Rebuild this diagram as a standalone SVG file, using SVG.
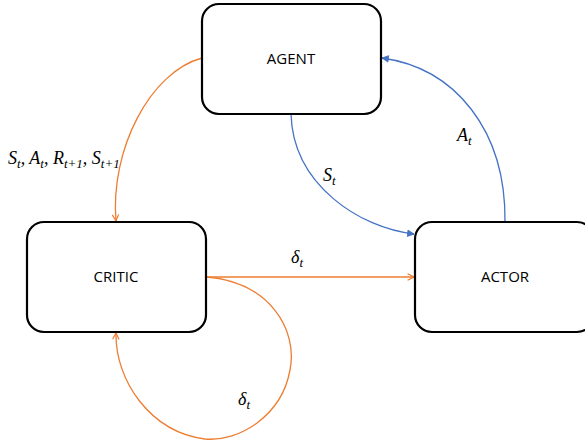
<svg xmlns="http://www.w3.org/2000/svg" width="585" height="442" viewBox="0 0 585 442">
  <style>
    .box { fill: #ffffff; stroke: #000000; stroke-width: 2.2; }
    .lbl { font-family: "Open Sans", "Noto Sans", "DejaVu Sans", sans-serif; font-size: 15px; fill: #000; text-anchor: middle; }
    .math { font-family: "Liberation Serif", "DejaVu Serif", serif; font-style: italic; font-size: 18px; fill: #000; }
    .sub { font-size: 13px; }
    .orange { fill: none; stroke: #ED7D31; stroke-width: 1.3; }
    .blue { fill: none; stroke: #4472C4; stroke-width: 1.3; }
  </style>
  <defs>
    <marker id="arrO" viewBox="0 0 10 10" refX="9" refY="5" markerWidth="8" markerHeight="8" markerUnits="userSpaceOnUse" orient="auto">
      <path d="M1,1 L9,5 L1,9" fill="none" stroke="#ED7D31" stroke-width="1.5"/>
    </marker>
    <marker id="arrB" viewBox="0 0 10 10" refX="9" refY="5" markerWidth="8" markerHeight="8" markerUnits="userSpaceOnUse" orient="auto">
      <path d="M1,1 L9,5 L1,9 Z" fill="#4472C4" stroke="#4472C4" stroke-width="1"/>
    </marker>
  </defs>

  <g id="connectors">
    <path class="orange" d="M202,58 C150,72 110,150 116,221" marker-end="url(#arrO)"/>
    <path class="blue" d="M291,114 C293,185 360,228 414,234" marker-end="url(#arrB)"/>
    <path class="blue" d="M505,222 C506,130 455,68 382,58" marker-end="url(#arrB)"/>
    <path class="orange" d="M206,277 L414,277" marker-end="url(#arrO)"/>
    <path class="orange" d="M206,277 C270,282 298,330 290,370 C282,415 240,442 205,439 C150,432 115,380 116,333" marker-end="url(#arrO)"/>
  </g>

  <g id="agent">
    <rect class="box" x="202" y="4" width="179" height="110" rx="17"/>
    <text class="lbl" x="291" y="64">AGENT</text>
  </g>
  <g id="critic">
    <rect class="box" x="27" y="222" width="179" height="110" rx="17"/>
    <text class="lbl" x="116" y="282">CRITIC</text>
  </g>
  <g id="actor">
    <rect class="box" x="415" y="222" width="179" height="110" rx="17"/>
    <text class="lbl" x="505" y="282">ACTOR</text>
  </g>

  <g id="labels">
    <text class="math" x="8" y="164">S<tspan class="sub" dy="4">t</tspan><tspan dy="-4">, A</tspan><tspan class="sub" dy="4">t</tspan><tspan dy="-4">, R</tspan><tspan class="sub" dy="4">t+1</tspan><tspan dy="-4">, S</tspan><tspan class="sub" dy="4">t+1</tspan></text>
    <text class="math" x="323" y="181">S<tspan class="sub" dy="4">t</tspan></text>
    <text class="math" x="457" y="141">A<tspan class="sub" dy="4">t</tspan></text>
    <text class="math" x="291" y="263">δ<tspan class="sub" dy="4">t</tspan></text>
    <text class="math" x="238" y="405">δ<tspan class="sub" dy="4">t</tspan></text>
  </g>
</svg>
